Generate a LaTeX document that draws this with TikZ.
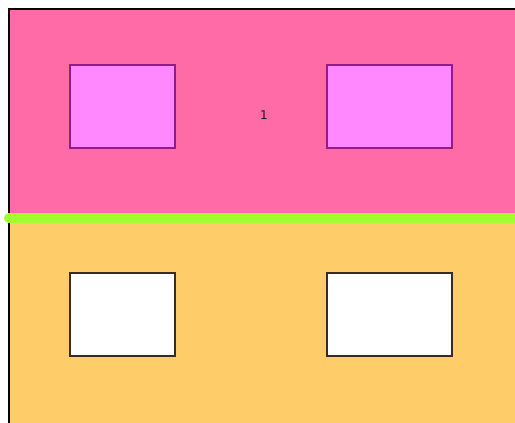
\documentclass[tikz,border=0pt]{standalone}
\usepackage{fontspec}
\newfontfamily\tagfont{DejaVu Sans}
\usepackage{tikz}
\usetikzlibrary{positioning}
\definecolor{hpink}{HTML}{FF6BA6}
\definecolor{hviolet}{HTML}{FF88FF}
\definecolor{hplum}{HTML}{8E1E86}
\definecolor{hlime}{HTML}{A0FF2E}
\definecolor{hsand}{HTML}{FFCC6A}
\definecolor{hdark}{HTML}{3A2A22}
\tikzset{
  floorup/.style={fill=hpink,draw=none},
  floordown/.style={fill=hsand,draw=none},
  upwin/.style={fill=hviolet,draw=hplum,line width=1.5pt},
  downwin/.style={fill=white,draw=hdark,line width=1.5pt},
  ledge/.style={draw=hlime,line width=10pt,line cap=round},
  wall/.style={draw=black,line width=1.6pt},
}
\begin{document}
\begin{tikzpicture}[x=1pt,y=-1pt,
                    tag/.style={font=\tagfont\fontsize{12}{14}\selectfont,text=black!90,inner sep=0pt}]
  \useasboundingbox (0,0) rectangle (515,423);
  % the two floors
  \fill[floordown] (9,218) rectangle (515,423);
  \fill[floorup] (9,9) rectangle (515,218);
  \draw[wall] (9,423) -- (9,9) -- (515,9);
  % windows
  \foreach \xa/\xb [count=\ix] in {70/175,327/452} {
    \draw[upwin] (\xa,65) rectangle (\xb,148);
    \draw[downwin] (\xa,273) rectangle (\xb,356);
  }
  \node[tag] (num) at (264,115) {1};
  % floor line
  \coordinate (lA) at (9,218);
  \coordinate (lB) at (520,218);
  \draw[ledge] (lA) -- (lB);
\end{tikzpicture}
\end{document}
